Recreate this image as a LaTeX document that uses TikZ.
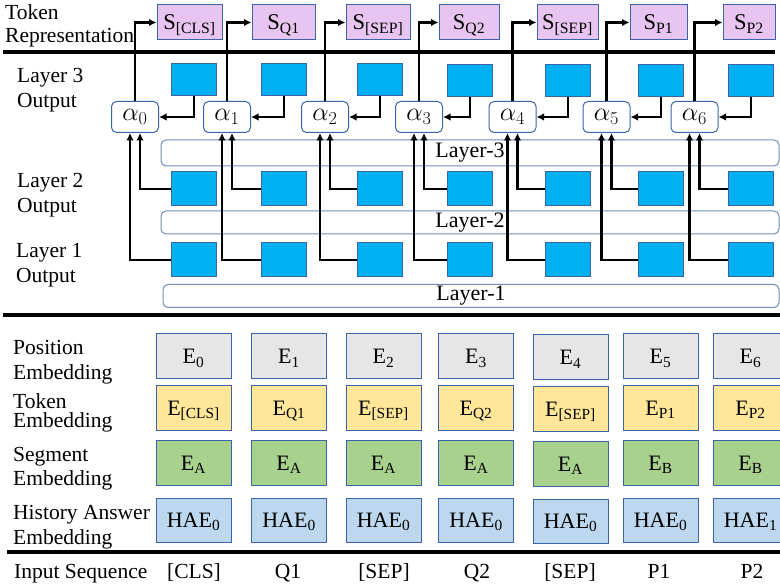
\documentclass[tikz,border=0pt]{standalone}
\usepackage{fix-cm}
\usepackage{fontspec}
\setmainfont{Liberation Serif}
\usepackage{tikz}
\usetikzlibrary{arrows.meta}

\definecolor{sfill}{HTML}{E8C5F0}
\definecolor{hidfill}{HTML}{00B0F0}
\definecolor{boxline}{HTML}{3B64A8}
\definecolor{layline}{HTML}{6F8DC0}
\definecolor{posfill}{HTML}{E7E6E6}
\definecolor{tokfill}{HTML}{FFE699}
\definecolor{segfill}{HTML}{A9D18E}
\definecolor{haefill}{HTML}{BDD7EE}

\tikzset{
  lbl/.style={anchor=north west, inner sep=0pt, align=left, font=\fontsize{21.5}{25.5}\selectfont},
  sbox/.style={draw=boxline, fill=sfill, line width=1pt, minimum height=35pt, inner sep=0pt,
    text height=15pt, text depth=0pt, font=\fontsize{22.5}{26}\selectfont},
  hid/.style={draw=boxline, fill=hidfill, line width=1pt, minimum width=45pt, inner sep=0pt},
  wbox/.style={draw=boxline, fill=white, rounded corners=5pt, line width=1pt, minimum width=47pt,
    minimum height=31pt, inner sep=0pt, font=\fontsize{26}{28}\selectfont},
  layerbox/.style={draw=layline, fill=white, rounded corners=5pt, line width=1pt, minimum width=618pt,
    inner sep=0pt, font=\fontsize{22}{24}\selectfont},
  emb/.style={draw=boxline, line width=1pt, minimum width=75pt, minimum height=45pt, inner sep=0pt,
    text height=15pt, text depth=0pt, font=\fontsize{22}{26}\selectfont},
  tok/.style={anchor=base, inner sep=0pt, font=\fontsize{21.5}{24}\selectfont},
  conn/.style={line width=2.2pt, -{Latex[length=7.5pt,width=7.5pt]}},
  sepline/.style={line width=4.5pt},
}

\begin{document}
\begin{tikzpicture}[x=1pt, y=-1pt]
			\useasboundingbox (0,0) rectangle (780,588);
			\clip (0,0) rectangle (780,588);

			% row labels
			\node[lbl, font=\fontsize{21.5}{23.5}\selectfont] (ltok) at (5,4) {Token\\Representation};
			\node[lbl] (ll3) at (17,68) {Layer 3\\Output};
			\node[lbl] (ll2) at (17,173) {Layer 2\\Output};
			\node[lbl] (ll1) at (16,243) {Layer 1\\Output};
			\node[lbl, font=\fontsize{21.5}{25}\selectfont] (lpos) at (13,340) {Position\\Embedding};
			\node[lbl, font=\fontsize{21.5}{19.5}\selectfont] (ltemb) at (13,393) {Token\\Embedding};
			\node[lbl, font=\fontsize{21.5}{24}\selectfont] (lseg) at (13,447) {Segment\\Embedding};
			\node[lbl, font=\fontsize{21.5}{25}\selectfont] (lhae) at (13,505) {History Answer\\Embedding};
			\node[tok, anchor=base west] (linp) at (14,578) {Input Sequence};

			% separators
			\draw[sepline] (3,52) -- (775,52);
			\draw[sepline] (3,315) -- (780,315);
			\draw[sepline] (7,552) -- (780,552);

			% token representation
			\node[sbox, minimum width=65pt] (s0) at (189.5,22.5) {S\textsubscript{[CLS]}};
			\node[sbox, minimum width=63pt] (s1) at (283.5,22.5) {S\textsubscript{Q1}};
			\node[sbox, minimum width=64pt] (s2) at (378,22.5) {S\textsubscript{[SEP]}};
			\node[sbox, minimum width=60pt] (s3) at (469,22.5) {S\textsubscript{Q2}};
			\node[sbox, minimum width=61pt] (s4) at (567.5,22.5) {S\textsubscript{[SEP]}};
			\node[sbox, minimum width=57pt] (s5) at (658.5,22.5) {S\textsubscript{P1}};
			\node[sbox, minimum width=52pt] (s6) at (749,22.5) {S\textsubscript{P2}};

			% layer boxes
			\node[layerbox, minimum height=26pt] (lay3) at (470,153) {Layer-3};
			\node[layerbox, minimum height=23pt] (lay2) at (470,222.5) {Layer-2};
			\node[layerbox, minimum height=23pt, minimum width=616pt] (lay1) at (471,296) {Layer-1};

			% attention weights
			\node[wbox] (a0) at (135,117) {$\alpha_0$};
			\node[wbox] (a1) at (227,117) {$\alpha_1$};
			\node[wbox] (a2) at (325,117) {$\alpha_2$};
			\node[wbox] (a3) at (419,117) {$\alpha_3$};
			\node[wbox] (a4) at (512.5,117) {$\alpha_4$};
			\node[wbox] (a5) at (606.5,117) {$\alpha_5$};
			\node[wbox] (a6) at (694.5,117) {$\alpha_6$};

			% layer 3 output
			\node[hid, minimum height=32pt] (h30) at (194,80) {};
			\node[hid, minimum height=32pt] (h31) at (284,80) {};
			\node[hid, minimum height=32pt] (h32) at (380,80) {};
			\node[hid, minimum height=32pt] (h33) at (470,81) {};
			\node[hid, minimum height=32pt] (h34) at (568,81) {};
			\node[hid, minimum height=32pt] (h35) at (661,81) {};
			\node[hid, minimum height=32pt] (h36) at (751,81) {};

			% layer 2 output
			\node[hid, minimum height=34pt] (h20) at (194,189) {};
			\node[hid, minimum height=34pt] (h21) at (284,189) {};
			\node[hid, minimum height=34pt] (h22) at (380,189) {};
			\node[hid, minimum height=34pt] (h23) at (470,189) {};
			\node[hid, minimum height=34pt] (h24) at (568,189) {};
			\node[hid, minimum height=34pt] (h25) at (661,189) {};
			\node[hid, minimum height=34pt] (h26) at (751,189) {};

			% layer 1 output
			\node[hid, minimum height=34pt] (h10) at (194,260) {};
			\node[hid, minimum height=34pt] (h11) at (284,260) {};
			\node[hid, minimum height=34pt] (h12) at (380,260) {};
			\node[hid, minimum height=34pt] (h13) at (470,260) {};
			\node[hid, minimum height=34pt] (h14) at (568,260) {};
			\node[hid, minimum height=34pt] (h15) at (661,260) {};
			\node[hid, minimum height=34pt] (h16) at (751,260) {};

			% alpha -> token representation
			\draw[conn] (a0.north) |- (s0.west);
			\draw[conn] (a1.north) |- (s1.west);
			\draw[conn] (a2.north) |- (s2.west);
			\draw[conn] (a3.north) |- (s3.west);
			\draw[conn] (a4.north) |- (s4.west);
			\draw[conn] (a5.north) |- (s5.west);
			\draw[conn] (a6.north) |- (s6.west);

			% layer 3 -> alpha
			\draw[conn] (h30.south) |- (a0.east);
			\draw[conn] (h31.south) |- (a1.east);
			\draw[conn] (h32.south) |- (a2.east);
			\draw[conn] (h33.south) |- (a3.east);
			\draw[conn] (h34.south) |- (a4.east);
			\draw[conn] (h35.south) |- (a5.east);
			\draw[conn] (h36.south) |- (a6.east);

			% layer 2 -> alpha
			\draw[conn] (h20.west) -| ([xshift=5pt]a0.south);
			\draw[conn] (h21.west) -| ([xshift=5pt]a1.south);
			\draw[conn] (h22.west) -| ([xshift=5pt]a2.south);
			\draw[conn] (h23.west) -| ([xshift=5pt]a3.south);
			\draw[conn] (h24.west) -| ([xshift=5pt]a4.south);
			\draw[conn] (h25.west) -| ([xshift=5pt]a5.south);
			\draw[conn] (h26.west) -| ([xshift=5pt]a6.south);

			% layer 1 -> alpha
			\draw[conn] (h10.west) -| ([xshift=-5pt]a0.south);
			\draw[conn] (h11.west) -| ([xshift=-5pt]a1.south);
			\draw[conn] (h12.west) -| ([xshift=-5pt]a2.south);
			\draw[conn] (h13.west) -| ([xshift=-5pt]a3.south);
			\draw[conn] (h14.west) -| ([xshift=-5pt]a4.south);
			\draw[conn] (h15.west) -| ([xshift=-5pt]a5.south);
			\draw[conn] (h16.west) -| ([xshift=-5pt]a6.south);

			% position embedding
			\node[emb, fill=posfill] (p0) at (193.5,356.5) {E\textsubscript{0}};
			\node[emb, fill=posfill] (p1) at (289,356.5) {E\textsubscript{1}};
			\node[emb, fill=posfill] (p2) at (383.5,356.5) {E\textsubscript{2}};
			\node[emb, fill=posfill] (p3) at (476,356.5) {E\textsubscript{3}};
			\node[emb, fill=posfill] (p4) at (570.5,357.5) {E\textsubscript{4}};
			\node[emb, fill=posfill] (p5) at (660.5,356.5) {E\textsubscript{5}};
			\node[emb, fill=posfill] (p6) at (750.5,356.5) {E\textsubscript{6}};

			% token embedding
			\node[emb, fill=tokfill] (e0) at (193.5,408) {E\textsubscript{[CLS]}};
			\node[emb, fill=tokfill] (e1) at (289,408) {E\textsubscript{Q1}};
			\node[emb, fill=tokfill] (e2) at (383.5,408) {E\textsubscript{[SEP]}};
			\node[emb, fill=tokfill] (e3) at (476,408) {E\textsubscript{Q2}};
			\node[emb, fill=tokfill] (e4) at (570.5,409) {E\textsubscript{[SEP]}};
			\node[emb, fill=tokfill] (e5) at (660.5,408) {E\textsubscript{P1}};
			\node[emb, fill=tokfill] (e6) at (750.5,408) {E\textsubscript{P2}};

			% segment embedding
			\node[emb, fill=segfill] (g0) at (193.5,462.5) {E\textsubscript{A}};
			\node[emb, fill=segfill] (g1) at (289,462.5) {E\textsubscript{A}};
			\node[emb, fill=segfill] (g2) at (383.5,462.5) {E\textsubscript{A}};
			\node[emb, fill=segfill] (g3) at (476,462.5) {E\textsubscript{A}};
			\node[emb, fill=segfill] (g4) at (570.5,463.5) {E\textsubscript{A}};
			\node[emb, fill=segfill] (g5) at (660.5,462.5) {E\textsubscript{B}};
			\node[emb, fill=segfill] (g6) at (750.5,462.5) {E\textsubscript{B}};

			% history answer embedding
			\node[emb, fill=haefill, minimum height=44pt] (x0) at (193.5,520) {HAE\textsubscript{0}};
			\node[emb, fill=haefill, minimum height=44pt] (x1) at (289,520) {HAE\textsubscript{0}};
			\node[emb, fill=haefill, minimum height=44pt] (x2) at (383.5,520) {HAE\textsubscript{0}};
			\node[emb, fill=haefill, minimum height=44pt] (x3) at (476,520) {HAE\textsubscript{0}};
			\node[emb, fill=haefill, minimum height=44pt] (x4) at (570.5,521) {HAE\textsubscript{0}};
			\node[emb, fill=haefill, minimum height=44pt] (x5) at (660.5,520) {HAE\textsubscript{0}};
			\node[emb, fill=haefill, minimum height=44pt] (x6) at (750.5,520) {HAE\textsubscript{1}};

			% input sequence
			\node[tok] (in0) at (194,578) {[CLS]};
			\node[tok] (in1) at (288,578) {Q1};
			\node[tok] (in2) at (384,578) {[SEP]};
			\node[tok] (in3) at (477,578) {Q2};
			\node[tok] (in4) at (570,578) {[SEP]};
			\node[tok] (in5) at (659,578) {P1};
			\node[tok] (in6) at (752,578) {P2};
\end{tikzpicture}
\end{document}
